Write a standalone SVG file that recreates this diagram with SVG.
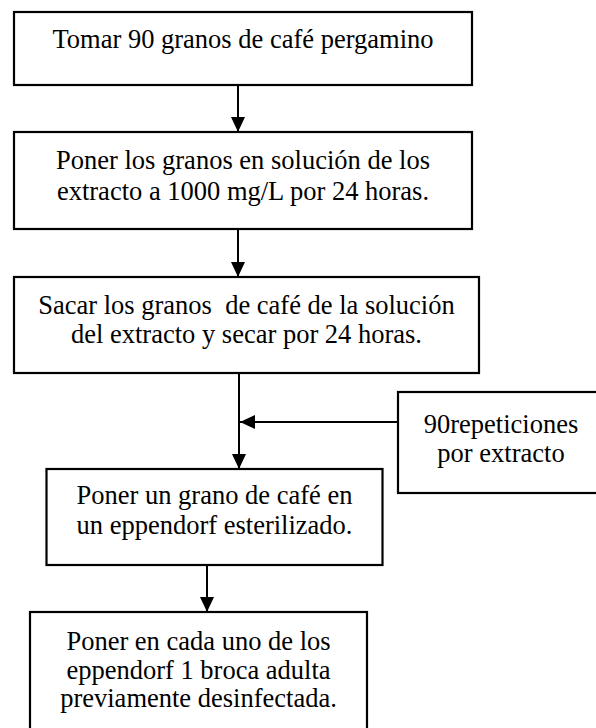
<svg xmlns="http://www.w3.org/2000/svg" width="596" height="728" viewBox="0 0 596 728">
<defs>
<style>
.box{fill:#fff;stroke:#000;stroke-width:2.2}
.t{font-family:"Liberation Serif","Times New Roman",serif;font-size:26.5px;fill:#000;text-anchor:middle;white-space:pre}
.c{stroke:#000;stroke-width:2;fill:none}
</style>
<marker id="ah" markerUnits="userSpaceOnUse" markerWidth="16" markerHeight="16" viewBox="0 0 16 16" refX="15" refY="8" orient="auto">
<path d="M0,1 L15,8 L0,15 Z" fill="#000"/>
</marker>
</defs>
<rect width="596" height="728" fill="#fff"/>
<g id="n1">
<rect class="box" x="14" y="12" width="458" height="73"/>
<text class="t" x="243" y="48">Tomar 90 granos de café pergamino</text>
</g>
<g id="n2">
<rect class="box" x="14" y="132" width="458" height="97"/>
<text class="t" x="243" y="169">Poner los granos en solución de los</text>
<text class="t" x="243" y="200">extracto a 1000 mg/L por 24 horas.</text>
</g>
<g id="n3">
<rect class="box" x="14" y="277" width="465" height="96"/>
<text class="t" x="246.5" y="314">Sacar los granos  de café de la solución</text>
<text class="t" x="246.5" y="343">del extracto y secar por 24 horas.</text>
</g>
<g id="n4">
<rect class="box" x="398" y="392" width="206" height="101"/>
<text class="t" x="501" y="433">90repeticiones</text>
<text class="t" x="501" y="462">por extracto</text>
</g>
<g id="n5">
<rect class="box" x="46.5" y="469" width="336" height="96"/>
<text class="t" x="214.5" y="504">Poner un grano de café en</text>
<text class="t" x="214.5" y="534">un eppendorf esterilizado.</text>
</g>
<g id="n6">
<rect class="box" x="30" y="612" width="337" height="130"/>
<text class="t" x="198.5" y="650">Poner en cada uno de los</text>
<text class="t" x="198.5" y="679">eppendorf 1 broca adulta</text>
<text class="t" x="198.5" y="707">previamente desinfectada.</text>
</g>
<g id="connectors">
<line class="c" x1="238" y1="85" x2="238" y2="132" marker-end="url(#ah)"/>
<line class="c" x1="238" y1="229" x2="238" y2="277" marker-end="url(#ah)"/>
<line class="c" x1="239" y1="373" x2="239" y2="469" marker-end="url(#ah)"/>
<line class="c" x1="398" y1="422" x2="240" y2="422" marker-end="url(#ah)"/>
<line class="c" x1="207" y1="565" x2="207" y2="612" marker-end="url(#ah)"/>
</g>
</svg>
